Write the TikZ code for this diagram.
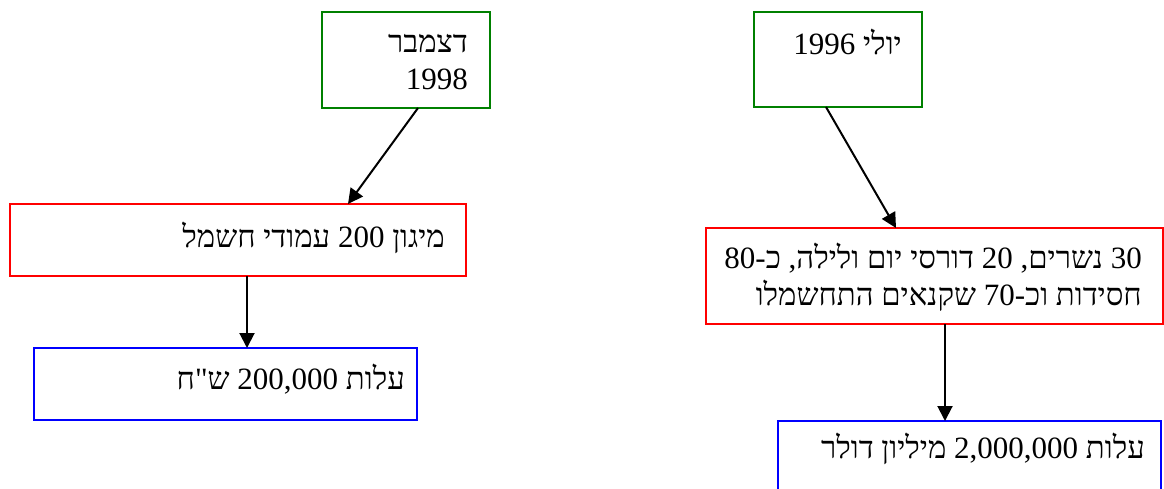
\documentclass[tikz,border=0pt]{standalone}
\usepackage{fontspec}
\setmainfont{Liberation Serif}
\newfontfamily\hebfont[Script=Hebrew]{Liberation Serif}
\TeXXeTstate=1
\usetikzlibrary{arrows.meta}
\definecolor{gcol}{RGB}{0,128,0}
\definecolor{rcol}{RGB}{255,0,0}
\definecolor{bcol}{RGB}{0,0,255}
\tikzset{
  box/.style={draw, line width=1.5pt, rectangle, anchor=north west, inner sep=0pt, outer sep=0pt},
  gbox/.style={box, draw=gcol},
  rbox/.style={box, draw=rcol},
  bbox/.style={box, draw=bcol},
  txt/.style={anchor=base east, inner sep=0pt, font=\hebfont\fontsize{31}{38}\selectfont},
  conn/.style={draw=black, line width=2pt, -{Triangle[length=15pt,width=15pt]}}
}
\begin{document}
\begin{tikzpicture}[x=1pt,y=-1pt]
\clip (0,0) rectangle (1164,488);
\fill[white] (0,0) rectangle (1164,488);
% left column
\node[gbox, minimum width=168pt, minimum height=96pt] (g1) at (322,12) {};
\node[rbox, minimum width=456pt, minimum height=72pt] (r1) at (10,204) {};
\node[bbox, minimum width=383pt, minimum height=72pt] (b1) at (34,348) {};
% right column
\node[gbox, minimum width=168pt, minimum height=95pt] (g2) at (754,12) {};
\node[rbox, minimum width=457pt, minimum height=96pt] (r2) at (706,228) {};
\node[bbox, minimum width=383pt, minimum height=90pt] (b2) at (778,421) {};
% texts
\node[txt] (t1a) at (468,52) {\beginR דצמבר\endR};
\node[txt] (t1b) at (468,89) {\beginR 1998\endR};
\node[txt] (t2) at (902,54) {\beginR יולי 1996\endR};
\node[txt] (t3) at (445,247) {\beginR מיגון 200 עמודי חשמל\endR};
\node[txt] (t4a) at (1142,268) {\beginR 30 נשרים, 20 דורסי יום ולילה, כ-80\endR};
\node[txt] (t4b) at (1142,305) {\beginR חסידות וכ-70 שקנאים התחשמלו\endR};
\node[txt] (t5) at (405,389) {\beginR עלות 200,000 ש"ח\endR};
\node[txt] (t6) at (1145,458) {\beginR עלות 2,000,000 מיליון דולר\endR};
% connectors
\draw[conn] ([xshift=12pt]g1.south) -- ([xshift=110pt]r1.north);
\draw[conn] ([xshift=9pt]r1.south) -- ([xshift=21.5pt]b1.north);
\draw[conn] ([xshift=-12pt]g2.south) -- ([xshift=-38.5pt]r2.north);
\draw[conn] ([xshift=10.5pt]r2.south) -- ([xshift=-24.5pt]b2.north);
\end{tikzpicture}
\end{document}
